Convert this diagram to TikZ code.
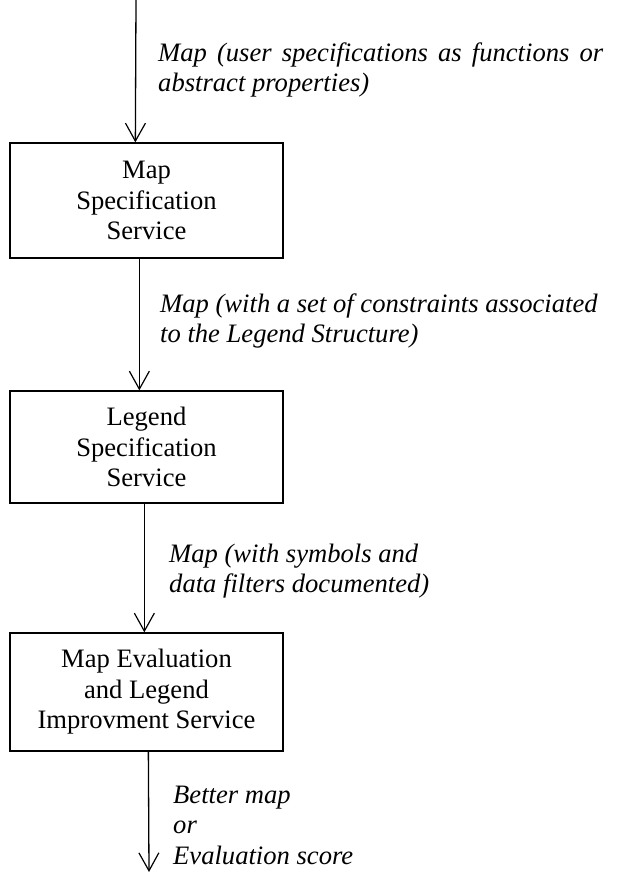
\documentclass[tikz,border=0pt]{standalone}
\usepackage{fontspec}
\setmainfont{Liberation Serif}
\usetikzlibrary{arrows.meta}

\begin{document}
\begin{tikzpicture}[x=1pt,y=-1pt,
  every node/.style={font=\fontsize{26.6}{30.5}\selectfont},
  service/.style={draw,line width=1.3pt,minimum width=273,align=center,inner sep=0pt},
  flow/.style={line width=1.3pt,-{Straight Barb[length=18pt,width=20pt,line width=1.2pt]}},
  note/.style={font=\fontsize{26.6}{30.5}\selectfont\itshape,align=left,anchor=west,inner sep=0pt}]
	\useasboundingbox (0,0) rectangle (619,872);

	% the three services
	\node[service,minimum height=115] (mapspec) at (146.5,200.5) {Map\\Specification\\Service};
	\node[service,minimum height=112] (legendspec) at (146.5,447) {Legend\\Specification\\Service};
	\node[service,minimum height=118] (evalserv) at (146.5,692) {Map Evaluation\\and Legend\\Improvment Service};

	% loose ends of the chain
	\coordinate (in) at (136,0);
	\coordinate (out) at (149,872);

	\draw[flow] (in) -- ([xshift=126]mapspec.north west);
	\draw[flow] ([xshift=130]mapspec.south west) -- ([xshift=130]legendspec.north west);
	\draw[flow] ([xshift=135]legendspec.south west) -- ([xshift=135]evalserv.north west);
	\draw[flow] ([xshift=139]evalserv.south west) -- (out);

	% what is passed along
	\node[note,text width=445,align=justify] (userspec) at (158,70) {Map (user specifications as functions or\linebreak abstract properties)};
	\node[note] (constraints) at (160,321) {Map (with a set of constraints associated\\to the Legend Structure)};
	\node[note] (symbols) at (169,571) {Map (with symbols and\\data filters documented)};
	\node[note] (result) at (173,825) {Better map\\or\\Evaluation score};
\end{tikzpicture}
\end{document}
